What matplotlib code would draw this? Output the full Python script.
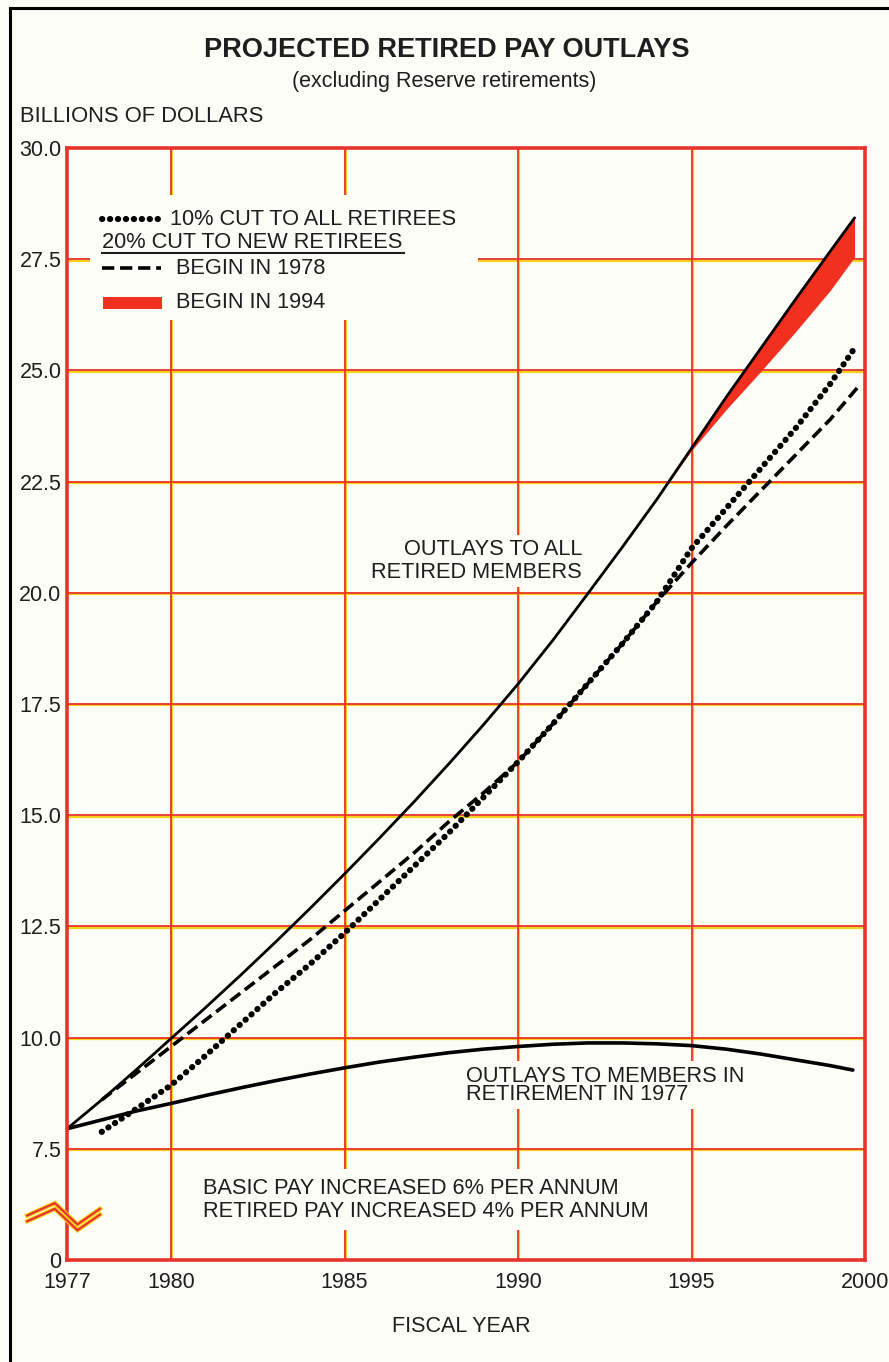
import matplotlib
matplotlib.use("Agg")
import matplotlib.pyplot as plt
from matplotlib.patches import Rectangle

plt.rcParams['font.family'] = ['Liberation Sans', 'DejaVu Sans']

# ---------------- data ----------------
years_all = [1977, 1978, 1979, 1980, 1981, 1982, 1983, 1984, 1985, 1986, 1987, 1988,
             1989, 1990, 1991, 1992, 1993, 1994, 1995, 1996, 1997, 1998, 1999, 1999.7]
outlays_all = [7.95, 8.6, 9.28, 9.98, 10.68, 11.4, 12.14, 12.9, 13.68, 14.48, 15.3, 16.15,
               17.03, 17.95, 18.93, 19.97, 21.02, 22.1, 23.25, 24.4, 25.5, 26.6, 27.68, 28.43]

years_1977 = [1977, 1978, 1979, 1980, 1981, 1982, 1983, 1984, 1985, 1986, 1987, 1988,
              1989, 1990, 1991, 1992, 1993, 1994, 1995, 1996, 1997, 1998, 1999, 1999.65]
outlays_1977 = [7.95, 8.15, 8.35, 8.52, 8.7, 8.87, 9.03, 9.18, 9.32, 9.45, 9.56, 9.66,
                9.74, 9.8, 9.85, 9.88, 9.88, 9.86, 9.82, 9.74, 9.63, 9.5, 9.37, 9.27]

years_cut10 = [1978, 1979, 1980, 1981, 1982, 1983, 1984, 1985, 1986, 1987, 1988, 1989,
               1990, 1991, 1992, 1993, 1994, 1995, 1996, 1997, 1998, 1999, 1999.7]
cut10_all = [7.88, 8.4, 8.93, 9.6, 10.3, 11.0, 11.65, 12.35, 13.1, 13.85, 14.6, 15.4,
             16.2, 17.05, 17.95, 18.85, 19.8, 21.0, 21.9, 22.8, 23.7, 24.7, 25.5]

years_cut20_1978 = [1978, 1979, 1980, 1981, 1982, 1983, 1984, 1985, 1986, 1987, 1988, 1989,
                    1990, 1991, 1992, 1993, 1994, 1995, 1996, 1997, 1998, 1999, 1999.8]
cut20_1978 = [8.6, 9.2, 9.8, 10.4, 11.0, 11.6, 12.2, 12.85, 13.5, 14.15, 14.85, 15.5,
              16.2, 17.05, 17.95, 18.85, 19.8, 20.67, 21.5, 22.3, 23.1, 23.9, 24.63]

years_cut20_1994 = [1994, 1995, 1996, 1997, 1998, 1999, 1999.7]
cut20_1994_upper = [22.1, 23.25, 24.4, 25.5, 26.6, 27.68, 28.43]
cut20_1994_lower = [22.1, 23.2, 24.12, 24.98, 25.87, 26.8, 27.55]

x_ticks = [1977, 1980, 1985, 1990, 1995, 2000]
x_labels = ['1977', '1980', '1985', '1990', '1995', '2000']
y_ticks = [5.0, 7.5, 10.0, 12.5, 15.0, 17.5, 20.0, 22.5, 25.0, 27.5, 30.0]
y_labels = ['0', '7.5', '10.0', '12.5', '15.0', '17.5', '20.0', '22.5', '25.0', '27.5', '30.0']

# ---------------- style ----------------
BG = '#fdfdf7'
RED = '#e8332b'
YEL = '#f6d21c'
FILLRED = '#f2301f'
TXT = '#1e1e1e'
FS = 15.7

DOT = (0, (0.05, 1.25))
DOT_LW = 4.4
DASH = (0, (3.4, 1.6))

fig = plt.figure(figsize=(8.89, 13.62), dpi=100, facecolor=BG)
ax = fig.add_axes([67/889, 1 - 1260/1362, (865-67)/889, (1260-148)/1362])
ax.set_facecolor(BG)
ax.set_xlim(1977, 2000)
ax.set_ylim(5, 30)

# grid lines (red with yellow misregistration halo)
for xv in x_ticks[1:-1]:
    ax.axvline(xv + 0.035, color=YEL, lw=1.6, zorder=1)
    ax.axvline(xv, color=RED, lw=1.3, zorder=1.1)
for yv in y_ticks[1:-1]:
    ax.axhline(yv - 0.03, color=YEL, lw=1.6, zorder=1)
    ax.axhline(yv, color=RED, lw=1.3, zorder=1.1)

for s in ax.spines.values():
    s.set_color(RED)
    s.set_linewidth(2.6)
    s.set_zorder(6)

ax.set_xticks(x_ticks)
ax.set_xticklabels(x_labels)
ax.set_yticks(y_ticks)
ax.set_yticklabels(y_labels)
ax.tick_params(length=0, labelsize=15.5, colors=TXT, pad=4)
ax.tick_params(axis='x', pad=9)

# curves
ax.fill_between(years_cut20_1994, cut20_1994_lower, cut20_1994_upper,
                color=FILLRED, lw=0, zorder=3)
ax.plot(years_all, outlays_all, color='black', lw=2.0, zorder=4,
        solid_capstyle='round', solid_joinstyle='round')
ax.plot(years_1977, outlays_1977, color='black', lw=2.6, zorder=4,
        solid_capstyle='round', solid_joinstyle='round')
ax.plot(years_cut20_1978, cut20_1978, color='black', lw=2.6, zorder=4,
        linestyle=DASH)
ax.plot(years_cut10, cut10_all, color='black', lw=DOT_LW, zorder=4,
        linestyle=DOT, dash_capstyle='round')

# text boxes (interrupt grid lines)
box = dict(facecolor=BG, edgecolor='none', pad=3)
ax.text(1991.85, 20.72, 'OUTLAYS TO ALL\nRETIRED MEMBERS', ha='right', va='center',
        multialignment='right', fontsize=FS, color=TXT, linespacing=1.1,
        bbox=box, zorder=2)
ax.text(1988.5, 8.93, 'OUTLAYS TO MEMBERS IN\nRETIREMENT IN 1977', ha='left',
        va='center', fontsize=FS, color=TXT, linespacing=0.82, bbox=box, zorder=2)
ax.text(1980.93, 6.35, 'BASIC PAY INCREASED 6% PER ANNUM\nRETIRED PAY INCREASED 4% PER ANNUM',
        ha='left', va='center', fontsize=FS, color=TXT, linespacing=1.15,
        bbox=dict(facecolor=BG, edgecolor='none', pad=6), zorder=2)

# legend
ax.add_patch(Rectangle((1977.65, 26.13), 11.2, 2.82, facecolor=BG, edgecolor='none',
                       zorder=2))
ax.plot([1978.0, 1979.65], [28.40, 28.40], color='black', lw=DOT_LW,
        linestyle=DOT, dash_capstyle='round', zorder=5)
ax.text(1979.98, 28.40, '10% CUT TO ALL RETIREES', ha='left', va='center',
        fontsize=FS, color=TXT, zorder=5)
ax.text(1978.0, 27.88, '20% CUT TO NEW RETIREES', ha='left', va='center',
        fontsize=FS, color=TXT, zorder=5)
ax.plot([1978.0, 1986.72], [27.63, 27.63], color=TXT, lw=1.5, zorder=5)
ax.plot([1978.0, 1979.7], [27.30, 27.30], color='black', lw=2.6,
        linestyle=DASH, zorder=5)
ax.text(1980.15, 27.30, 'BEGIN IN 1978', ha='left', va='center',
        fontsize=FS, color=TXT, zorder=5)
ax.add_patch(Rectangle((1978.05, 26.37), 1.7, 0.27, facecolor=FILLRED,
                       edgecolor='none', zorder=5))
ax.text(1980.15, 26.52, 'BEGIN IN 1994', ha='left', va='center',
        fontsize=FS, color=TXT, zorder=5)

# axis break symbol
brk_x = [1975.85, 1976.65, 1977.3, 1977.95]
brk_y = [6.0, 6.28, 5.8, 6.15]
for off in (0.0, -0.13):
    ax.plot(brk_x, [v + off for v in brk_y], color=YEL, lw=3.2, clip_on=False,
            zorder=7, solid_joinstyle='miter')
    ax.plot(brk_x, [v + off for v in brk_y], color=RED, lw=1.6, clip_on=False,
            zorder=7.1, solid_joinstyle='miter')

# titles
fig.text(0.502, 1 - 50/1362, 'PROJECTED RETIRED PAY OUTLAYS', ha='center', va='center',
         fontsize=19.5, fontweight='bold', color=TXT)
fig.text(0.500, 1 - 82/1362, '(excluding Reserve retirements)', ha='center', va='center',
         fontsize=15.5, color=TXT)
fig.text(20/889, 1 - 117/1362, 'BILLIONS OF DOLLARS', ha='left', va='center',
         fontsize=15.8, color=TXT)
fig.text(461/889, 1 - 1327/1362, 'FISCAL YEAR', ha='center', va='center',
         fontsize=15.5, color=TXT)

# page border
fig.add_artist(plt.Line2D([10/889, 10/889], [0, 1 - 8/1362], transform=fig.transFigure,
                          color='black', lw=2.2))
fig.add_artist(plt.Line2D([10/889, 1], [1 - 8/1362, 1 - 8/1362], transform=fig.transFigure,
                          color='black', lw=2.2))

fig.savefig('out.png', dpi=100, facecolor=BG)
